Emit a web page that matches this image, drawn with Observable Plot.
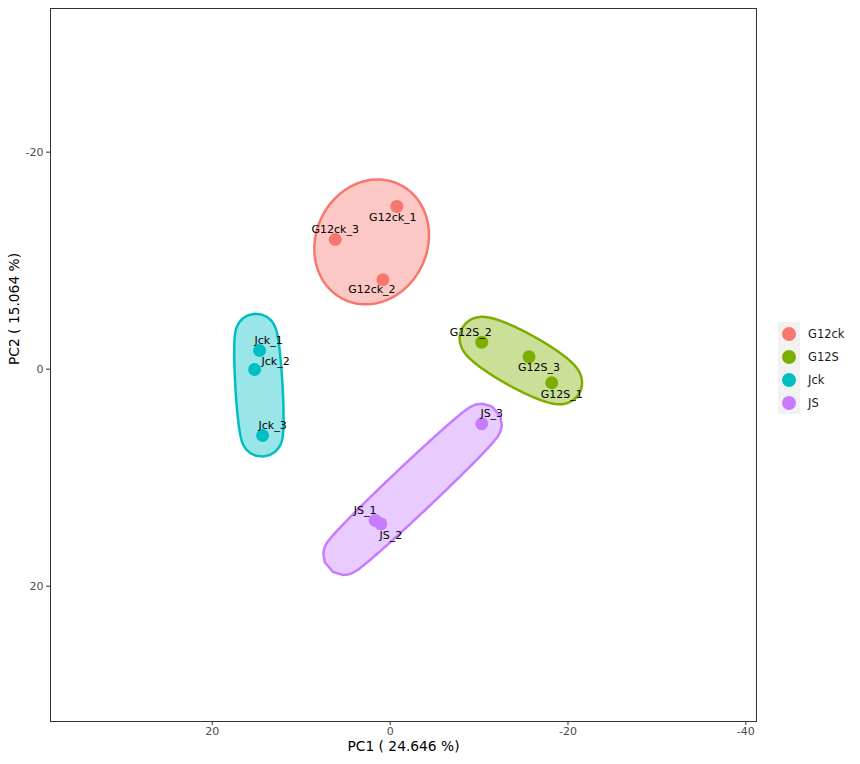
<!DOCTYPE html>
<html><head><meta charset="utf-8">
<script src="https://cdn.jsdelivr.net/npm/d3@7"></script>
<script src="https://cdn.jsdelivr.net/npm/@observablehq/plot@0.6"></script>
<style>
body{margin:0;background:#fff;font-family:"DejaVu Sans",sans-serif}
#wrap{position:relative;width:860px;height:764px}
#legend{position:absolute;left:778px;top:322px;font-size:11.5px;color:#1a1a1a}
.item{display:flex;align-items:center;height:23px}
.key{width:22px;height:23px;background:#f2f2f2;display:flex;align-items:center;justify-content:center}
.sw{width:14px;height:14px;border-radius:50%}
.lab{margin-left:8px}
</style></head><body><div id="wrap"><div id="legend"></div></div>
<script>
// ---- data ----
const groups = ["G12ck", "G12S", "Jck", "JS"];
const groupColors = ["#F8766D", "#7CAE00", "#00BFC4", "#C77CFF"];
const sampleNames = ["G12ck_1","G12ck_2","G12ck_3","G12S_1","G12S_2","G12S_3","Jck_1","Jck_2","Jck_3","JS_1","JS_2","JS_3"];
const sampleGroup = ["G12ck","G12ck","G12ck","G12S","G12S","G12S","Jck","Jck","Jck","JS","JS","JS"];
const pc1 = [-0.75, 0.82, 6.18, -18.17, -10.3, -15.62, 14.69, 15.25, 14.35, 1.69, 1.05, -10.3];
const pc2 = [-15.0, -8.24, -11.95, 1.25, -2.49, -1.14, -1.72, 0.03, 6.11, 13.94, 14.25, 5.03];
const xTicks = [20, 0, -20, -40];
const yTicks = [-20, 0, 20];
const xTitle = "PC1 ( 24.646 %)";
const yTitle = "PC2 ( 15.064 %)";

// ---- layout / style ----
const W = 860, H = 764;
const M = {top: 8, right: 104, bottom: 43, left: 50};
const xDomain = [38.2, -41.2];
const yDomain = [32.47, -33.24];
const expandPx = 20;
// label nudges in pixels (ggrepel-like placement)
const nudge = {
  G12ck_1: [-4, 11], G12ck_2: [-11, 10], G12ck_3: [0, -10],
  G12S_1: [10, 12], G12S_2: [-11, -10], G12S_3: [10, 11],
  Jck_1: [9, -10], Jck_2: [21, -8], Jck_3: [10, -10],
  JS_1: [-10, -10], JS_2: [10, 12], JS_3: [10, -10]
};

const samples = sampleNames.map((n, i) => ({name: n, group: sampleGroup[i], x: pc1[i], y: pc2[i]}));

// pixel scales mirroring the Plot scales (used only for the ellipse envelope geometry)
const sx = d3.scaleLinear().domain(xDomain).range([M.left, W - M.right]);
const sy = d3.scaleLinear().domain(yDomain).range([H - M.bottom, M.top]);

// minimum-area enclosing ellipse of 3 points (Steiner circumellipse), expanded by a fixed offset
function envelope(pts) {
  const P = pts.map(d => [sx(d.x), sy(d.y)]);
  const G = [d3.mean(P, p => p[0]), d3.mean(P, p => p[1])];
  const [A, B, C] = P;
  const U = [A[0] - G[0], A[1] - G[1]];
  const V = [(B[0] - C[0]) / Math.sqrt(3), (B[1] - C[1]) / Math.sqrt(3)];
  const out = [];
  const N = 240;
  for (let k = 0; k < N; k++) {
    const t = 2 * Math.PI * k / N;
    const px = G[0] + U[0] * Math.cos(t) + V[0] * Math.sin(t);
    const py = G[1] + U[1] * Math.cos(t) + V[1] * Math.sin(t);
    const tx = -U[0] * Math.sin(t) + V[0] * Math.cos(t);
    const ty = -U[1] * Math.sin(t) + V[1] * Math.cos(t);
    let nx = ty, ny = -tx;
    const len = Math.hypot(nx, ny) || 1;
    nx /= len; ny /= len;
    if (nx * (px - G[0]) + ny * (py - G[1]) < 0) { nx = -nx; ny = -ny; }
    out.push({x: sx.invert(px + expandPx * nx), y: sy.invert(py + expandPx * ny)});
  }
  return out;
}

const hullMarks = groups.map((g, i) => Plot.line(envelope(samples.filter(d => d.group === g)), {
  x: "x", y: "y", curve: "linear-closed",
  fill: groupColors[i], fillOpacity: 0.4, stroke: groupColors[i], strokeWidth: 2.5
}));

const labelMarks = samples.map(d => Plot.text([d], {
  x: "x", y: "y", text: "name", dx: nudge[d.name][0], dy: nudge[d.name][1],
  fontSize: 11, fill: "black"
}));

const plot = Plot.plot({
  width: W, height: H,
  marginTop: M.top, marginRight: M.right, marginBottom: M.bottom, marginLeft: M.left,
  style: {fontFamily: "DejaVu Sans, sans-serif", background: "white"},
  x: {domain: xDomain},
  y: {domain: yDomain},
  color: {domain: groups, range: groupColors},
  marks: [
    ...hullMarks,
    Plot.dot(samples, {x: "x", y: "y", r: 6.5, fill: "group", stroke: "none"}),
    ...labelMarks,
    Plot.frame({stroke: "#333333", strokeWidth: 1}),
    Plot.axisX({ticks: xTicks, tickFormat: d => String(d), tickSize: 4, tickPadding: 1.5, fontSize: 11, fill: "#4d4d4d", stroke: "#333333", label: null}),
    Plot.axisY({ticks: yTicks, tickFormat: d => String(d), tickSize: 4, tickPadding: 3, fontSize: 11, fill: "#4d4d4d", stroke: "#333333", label: null}),
    Plot.text([xTitle], {text: d => d, frameAnchor: "bottom", dy: 29, fontSize: 13.8, fill: "black"}),
    Plot.text([yTitle], {text: d => d, frameAnchor: "left", dx: -36, rotate: -90, fontSize: 13.8, fill: "black"})
  ]
});
document.getElementById("wrap").prepend(plot);

const legend = document.getElementById("legend");
groups.forEach((g, i) => {
  const it = document.createElement("div");
  it.className = "item";
  it.innerHTML = `<div class="key"><div class="sw" style="background:${groupColors[i]}"></div></div><span class="lab">${g}</span>`;
  legend.appendChild(it);
});
</script></body></html>
